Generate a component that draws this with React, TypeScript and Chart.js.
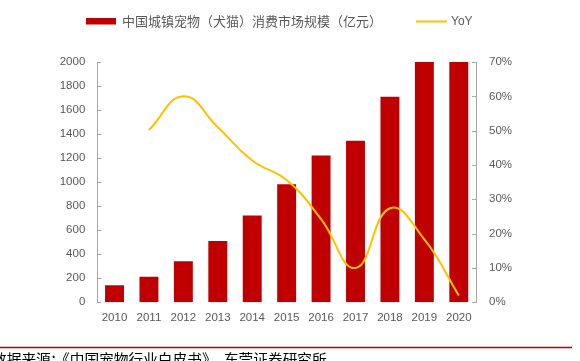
import React, { useEffect, useRef } from "react";
import { Chart, registerables } from "chart.js";

Chart.register(...registerables);

const years = ["2010", "2011", "2012", "2013", "2014", "2015", "2016", "2017", "2018", "2019", "2020"];
const marketSize = [142, 213, 341, 511, 722, 983, 1222, 1344, 1711, 2024, 2065];
const yoy = [null, 50.2, 60.0, 51.0, 41.3, 35.6, 24.2, 10.0, 27.4, 18.3, 2.0];
const barLabel = "中国城镇宠物（犬猫）消费市场规模（亿元）";
const lineLabel = "YoY";
const sourceHead = "数据来源";
const sourceColon = "：";
const sourceBody = "《中国宠物行业白皮书》，东莞证券研究所";

const RED = "#C00000";
const GOLD = "#FFC000";
const GREY = "#595959";
const AXIS = "#A6A6A6";
const TICK_FONT = "'Liberation Sans', Arial, sans-serif";
const CJK_FONT = "'Noto Sans CJK SC', sans-serif";

const decorPlugin = {
  id: "decor",
  afterDraw(chart: any) {
    const ctx = chart.ctx;
    const area = chart.chartArea;
    ctx.save();
    // legend
    ctx.fillStyle = RED;
    ctx.fillRect(86, 18, 30, 6.5);
    ctx.font = `13px ${CJK_FONT}`;
    ctx.fillStyle = GREY;
    ctx.textBaseline = "middle";
    ctx.textAlign = "left";
    ctx.fillText(barLabel, 122, 21.5);
    ctx.strokeStyle = GOLD;
    ctx.lineWidth = 2;
    ctx.beginPath();
    ctx.moveTo(416, 21.5);
    ctx.lineTo(447, 21.5);
    ctx.stroke();
    ctx.font = `12px ${TICK_FONT}`;
    ctx.fillText(lineLabel, 451, 21.5);

    // inside tick marks
    ctx.strokeStyle = AXIS;
    ctx.lineWidth = 1;
    const yl = chart.scales.y;
    const yr = chart.scales.y1;
    ctx.beginPath();
    yl.ticks.forEach((t: any) => {
      const py = Math.round(yl.getPixelForValue(t.value)) + 0.5;
      ctx.moveTo(area.left, py);
      ctx.lineTo(area.left + 4, py);
    });
    yr.ticks.forEach((t: any) => {
      const py = Math.round(yr.getPixelForValue(t.value)) + 0.5;
      ctx.moveTo(area.right - 4, py);
      ctx.lineTo(area.right, py);
    });
    ctx.stroke();

    // bottom rule and source
    ctx.strokeStyle = RED;
    ctx.lineWidth = 1.5;
    ctx.beginPath();
    ctx.moveTo(0, 347.5);
    ctx.lineTo(572, 347.5);
    ctx.stroke();
    ctx.font = `14.7px ${CJK_FONT}`;
    ctx.fillStyle = "#000000";
    ctx.textBaseline = "top";
    ctx.fillText(sourceHead, -8, 352);
    ctx.fillText(sourceColon, 50, 352);
    ctx.fillText(sourceBody, 55, 352);
    ctx.restore();
  },
};

export default function App() {
  const ref = useRef<HTMLCanvasElement>(null);
  useEffect(() => {
    if (!ref.current) return;
    const chart = new Chart(ref.current, {
      type: "bar",
      data: {
        labels: years,
        datasets: [
          {
            type: "line",
            label: lineLabel,
            data: yoy as any,
            yAxisID: "y1",
            borderColor: GOLD,
            backgroundColor: GOLD,
            borderWidth: 2,
            pointRadius: 0,
            tension: 0.45,
            order: 0,
          } as any,
          {
            type: "bar",
            label: barLabel,
            data: marketSize,
            yAxisID: "y",
            backgroundColor: RED,
            categoryPercentage: 1,
            barPercentage: 0.55,
            order: 1,
          },
        ],
      },
      plugins: [decorPlugin],
      options: {
        responsive: false,
        animation: false,
        layout: { padding: { top: 62, bottom: 38.7, left: 0, right: 0 } },
        plugins: { legend: { display: false }, tooltip: { enabled: false } },
        scales: {
          x: {
            offset: true,
            grid: { display: false, drawTicks: false },
            border: { display: false },
            ticks: { color: GREY, font: { family: TICK_FONT, size: 11.5 }, padding: 9, maxRotation: 0 },
            afterFit: (s: any) => { s.height = 20; },
          },
          y: {
            position: "left",
            min: 0,
            max: 2000,
            grid: { display: false, drawTicks: false },
            border: { display: true, color: AXIS, width: 1 },
            ticks: {
              stepSize: 200,
              color: GREY,
              font: { family: TICK_FONT, size: 11.5 },
              padding: 12,
              callback: (v: any) => String(v),
            },
            afterFit: (s: any) => { s.width = 97.3; },
          },
          y1: {
            position: "right",
            min: 0,
            max: 70,
            grid: { display: false, drawTicks: false },
            border: { display: true, color: AXIS, width: 1 },
            ticks: {
              stepSize: 10,
              color: GREY,
              font: { family: TICK_FONT, size: 11.5 },
              padding: 13,
              callback: (v: any) => `${v}%`,
            },
            afterFit: (s: any) => { s.width = 104; },
          },
        },
      },
    });
    return () => chart.destroy();
  }, []);
  return (
    <div style={{ position: "absolute", left: 0, top: 0, width: 580, height: 361, background: "#fff" }}>
      <canvas ref={ref} width={580} height={361} style={{ width: 580, height: 361, display: "block" }} />
    </div>
  );
}
